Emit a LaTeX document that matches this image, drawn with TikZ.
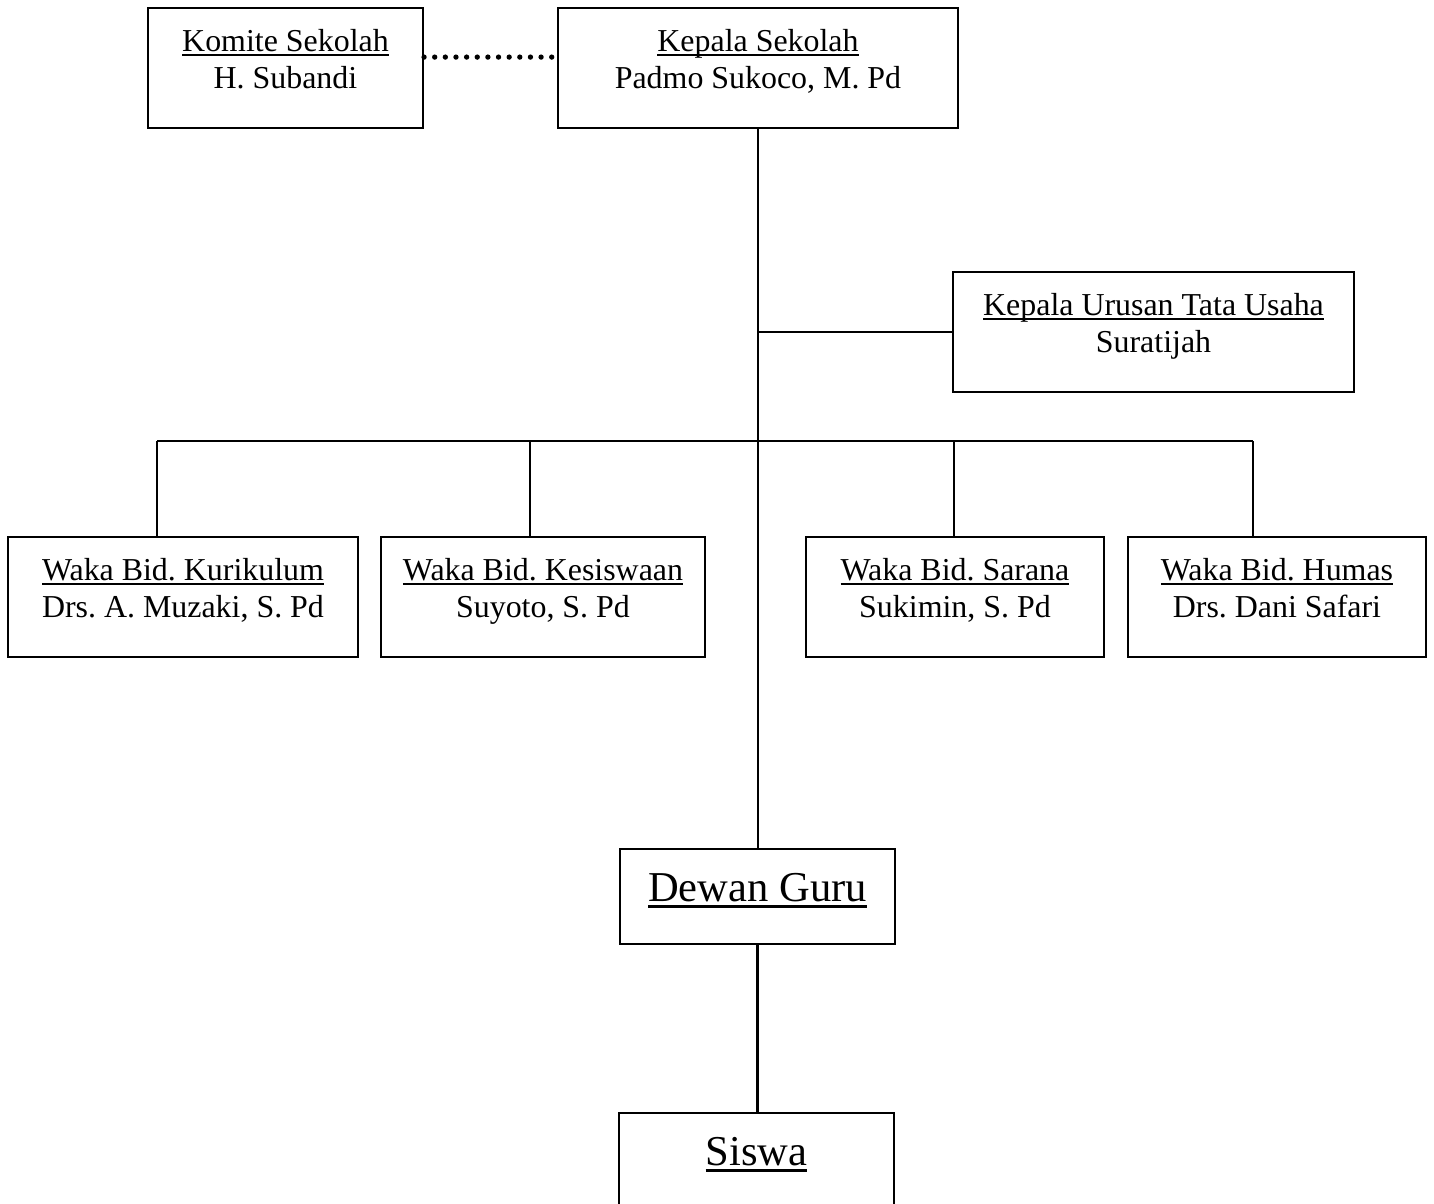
\documentclass[tikz,border=0pt]{standalone}
\usepackage{fontspec}
\setmainfont{Liberation Serif}
\frenchspacing
\usetikzlibrary{positioning, calc}
\newsavebox\garisbox
\newcommand{\garis}[1]{\sbox\garisbox{#1}\rlap{\rule[-0.15em]{\wd\garisbox}{0.06em}}\usebox\garisbox}
\tikzset{
  box/.style={draw, line width=0.8pt, align=center, minimum height=45.1pt, minimum width=#1,
    text depth=7pt, font=\fontsize{12}{13.9}\selectfont},
  bigbox/.style={draw, line width=0.8pt, align=center, minimum height=35.7pt, minimum width=103.4pt,
    text depth=7pt, font=\fontsize{16}{18.5}\selectfont},
  link/.style={line width=0.8pt},
  dots/.style={line width=2pt, line cap=round, dash pattern=on 0pt off 4pt},
}
\begin{document}
\begin{tikzpicture}[x=0.376pt, y=-0.376pt]
  \useasboundingbox (0,0) rectangle (1434,1204);

  % pimpinan
  \node[box=103.4pt] (komite) at (285.5,68) {\garis{Komite Sekolah}\\H. Subandi};
  \node[box=150.4pt] (kepsek) at (758,68) {\garis{Kepala Sekolah}\\Padmo Sukoco, M. Pd};
  \node[box=150.8pt] (tu) at (1153.5,332) {\garis{Kepala Urusan Tata Usaha}\\Suratijah};

  % wakil kepala
  \node[box=131.6pt] (kurikulum) at (183,597) {\garis{Waka Bid. Kurikulum}\\Drs. A. Muzaki, S. Pd};
  \node[box=121.8pt] (kesiswaan) at (543,597) {\garis{Waka Bid. Kesiswaan}\\Suyoto, S. Pd};
  \node[box=112pt] (sarana) at (955,597) {\garis{Waka Bid. Sarana}\\Sukimin, S. Pd};
  \node[box=112pt] (humas) at (1277,597) {\garis{Waka Bid. Humas}\\Drs. Dani Safari};

  \node[bigbox] (guru) at (757.5,896.5) {\garis{Dewan Guru}};
  \node[bigbox] (siswa) at (756.5,1160.5) {\garis{Siswa}};

  \coordinate (c1) at (157,441);
  \coordinate (c2) at (530,441);
  \coordinate (c3) at (954,441);
  \coordinate (c4) at (1253,441);

  \draw[dots] ([yshift=4.1pt]komite.east) -- ([yshift=4.1pt]komite.east -| kepsek.west);
  \draw[link] (kepsek.south) -- (kepsek.south |- guru.north);
  \draw[link] (kepsek.south |- tu.west) -- (tu.west);
  \draw[link] (c1) -- (c4);
  \foreach \c/\w in {c1/kurikulum, c2/kesiswaan, c3/sarana, c4/humas}
    \draw[link] (\c) -- (\c |- \w.north);
  \draw[link] (guru.south) -- (guru.south |- siswa.north);
\end{tikzpicture}
\end{document}
